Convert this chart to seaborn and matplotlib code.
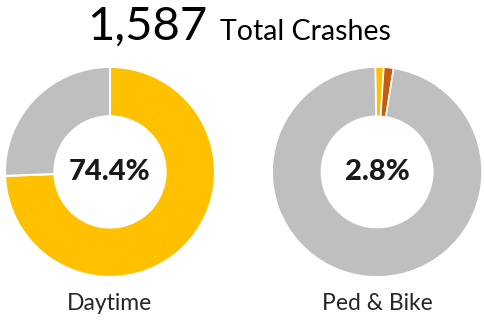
import matplotlib
matplotlib.use("Agg")
import matplotlib.pyplot as plt
import seaborn as sns

# ---------------- data ----------------
total_crashes = "1,587"
total_label = "Total Crashes"

day_labels = ["Daytime", "Other"]
day_values = [74.4, 25.6]

ped_labels = ["Ped", "Bike", "Other"]
ped_values = [1.3, 1.5, 97.2]

center_text = ["74.4%", "2.8%"]
chart_names = ["Daytime", "Ped & Bike"]

# ---------------- style ----------------
sns.set_theme(style="white")
plt.rcParams["font.family"] = ["Lato", "DejaVu Sans"]

gold = "#FFC000"
grey = "#BFBFBF"
rust = "#C55A11"

fig = plt.figure(figsize=(4.85, 3.22), dpi=100)

ax1 = fig.add_axes([0.0103, 0.14, 210 / 485, 210 / 322])
ax2 = fig.add_axes([0.561, 0.14, 210 / 485, 210 / 322])

ax1.pie(day_values, colors=[gold, grey], startangle=90, counterclock=False,
        wedgeprops=dict(width=0.47, edgecolor="white", linewidth=1.5))
ax2.pie(ped_values, colors=[gold, rust, grey], startangle=91, counterclock=False,
        wedgeprops=dict(width=0.47, edgecolor="white", linewidth=1.2))

for ax, txt, name in zip([ax1, ax2], center_text, chart_names):
    ax.set_xlim(-1, 1)
    ax.set_ylim(-1, 1)
    ax.set_aspect("equal")
    ax.axis("off")
    ax.text(0, 0, txt, ha="center", va="center", fontsize=21,
            fontweight="black", color="#1a1a1a")
    ax.text(0, -1.25, name, ha="center", va="center", fontsize=16.5,
            color="#262626")

# title
fig.text(0.427, 0.876, total_crashes, ha="right", va="baseline", fontsize=34,
         color="black")
fig.text(0.454, 0.876, total_label, ha="left", va="baseline", fontsize=20.5,
         color="black")

fig.savefig("out.png", dpi=100)
